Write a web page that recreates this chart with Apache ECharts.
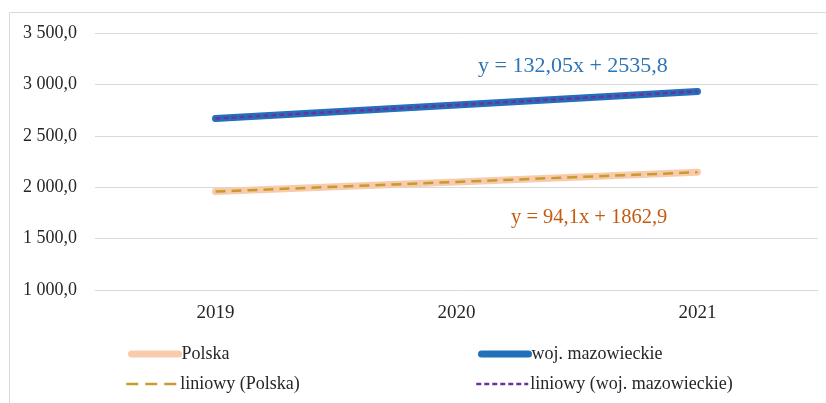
<!DOCTYPE html>
<html>
<head>
<meta charset="utf-8">
<script src="https://cdn.jsdelivr.net/npm/echarts@6/dist/echarts.min.js"></script>
<style>
html,body{margin:0;padding:0;background:#fff;}
#c{width:826px;height:403px;}
</style>
</head>
<body>
<div id="c"></div>
<script>
var categories = ['2019', '2020', '2021'];
var polska = [1958, 2050, 2146];
var mazowieckie = [2668, 2800, 2932];
var yTicks = [1000, 1500, 2000, 2500, 3000, 3500];
var seriesNames = ['Polska', 'woj. mazowieckie', 'liniowy (Polska)', 'liniowy (woj. mazowieckie)'];
var eqPolska = 'y = 94,1x + 1862,9';
var eqMazow = 'y = 132,05x + 2535,8';

function linFit(arr) {
  var n = arr.length, sx = 0, sy = 0, sxx = 0, sxy = 0;
  for (var i = 0; i < n; i++) { var x = i + 1; sx += x; sy += arr[i]; sxx += x * x; sxy += x * arr[i]; }
  var b = (n * sxy - sx * sy) / (n * sxx - sx * sx);
  var a = (sy - b * sx) / n;
  return arr.map(function (_, i) { return a + b * (i + 1); });
}
var trendPolska = linFit(polska);
var trendMazow = linFit(mazowieckie);

function fmt(v) {
  var s = v.toFixed(1).replace('.', ',');
  var parts = s.split(',');
  parts[0] = parts[0].replace(/\B(?=(\d{3})+(?!\d))/g, ' ');
  return parts.join(',');
}

var FONT = '"Liberation Serif", "Times New Roman", serif';
var chart = echarts.init(document.getElementById('c'), null, {renderer: 'canvas'});
function leg(name, left, top, w, iw, type, color, pad) {
  return {
    data: [name], left: left, top: top, itemWidth: iw, itemHeight: 14, itemGap: 0,
    padding: 0, selectedMode: false,
    itemStyle: {color: 'rgba(0,0,0,0)', borderWidth: 0, opacity: 0},
    lineStyle: {width: w, type: type, color: color, cap: w > 4 ? 'round' : 'butt'},
    textStyle: {fontFamily: FONT, fontSize: 18, color: '#262626', padding: [0, 0, 0, pad]}
  };
}
chart.setOption({
  animation: false,
  backgroundColor: '#fff',
  graphic: [
    {type: 'rect', shape: {x: 9.5, y: 12.5, width: 830, height: 400}, style: {fill: 'none', stroke: '#d9d9d9', lineWidth: 1}, silent: true},
    {type: 'text', left: 478, top: 55, style: {text: eqMazow, font: '22px ' + FONT, fill: '#2E75B6'}},
    {type: 'text', left: 511, top: 207, style: {text: eqPolska, font: '20.5px ' + FONT, fill: '#C55A11'}}
  ],
  grid: {left: 95, right: 8, top: 33, bottom: 113, containLabel: false},
  legend: [
    leg(seriesNames[0], 128, 345, 7, 47, 'solid', '#F8CBAD', -2),
    leg(seriesNames[1], 478, 345, 7, 47, 'solid', '#2270BA', -2),
    leg(seriesNames[2], 125, 375, 2.5, 52, [12, 7], '#C99A2E', -3),
    leg(seriesNames[3], 475, 375, 2.5, 52, [5, 3], '#7030A0', -3)
  ],
  xAxis: {
    type: 'category', data: categories, boundaryGap: true,
    axisLine: {show: true, lineStyle: {color: '#d9d9d9', width: 1}},
    axisTick: {show: false},
    axisLabel: {fontFamily: FONT, fontSize: 19, color: '#262626', margin: 14}
  },
  yAxis: {
    type: 'value', min: 1000, max: 3500, interval: 500,
    axisLine: {show: false}, axisTick: {show: false},
    splitLine: {lineStyle: {color: '#d9d9d9', width: 1}},
    axisLabel: {fontFamily: FONT, fontSize: 18, color: '#262626', margin: 18, formatter: fmt}
  },
  series: [
    {name: seriesNames[0], type: 'line', data: polska, symbol: 'none', lineStyle: {color: '#F8CBAD', width: 7, cap: 'round'}, itemStyle: {color: '#F8CBAD'}, z: 2},
    {name: seriesNames[1], type: 'line', data: mazowieckie, symbol: 'none', lineStyle: {color: '#2270BA', width: 7, cap: 'round'}, itemStyle: {color: '#2270BA'}, z: 2},
    {name: seriesNames[2], type: 'line', data: trendPolska, symbol: 'none', lineStyle: {color: '#C99A2E', width: 2.5, type: [10, 6]}, itemStyle: {color: '#C99A2E'}, z: 3},
    {name: seriesNames[3], type: 'line', data: trendMazow, symbol: 'none', lineStyle: {color: '#7030A0', width: 2.5, type: [5, 3]}, itemStyle: {color: '#7030A0'}, z: 3}
  ]
});
</script>
</body>
</html>
